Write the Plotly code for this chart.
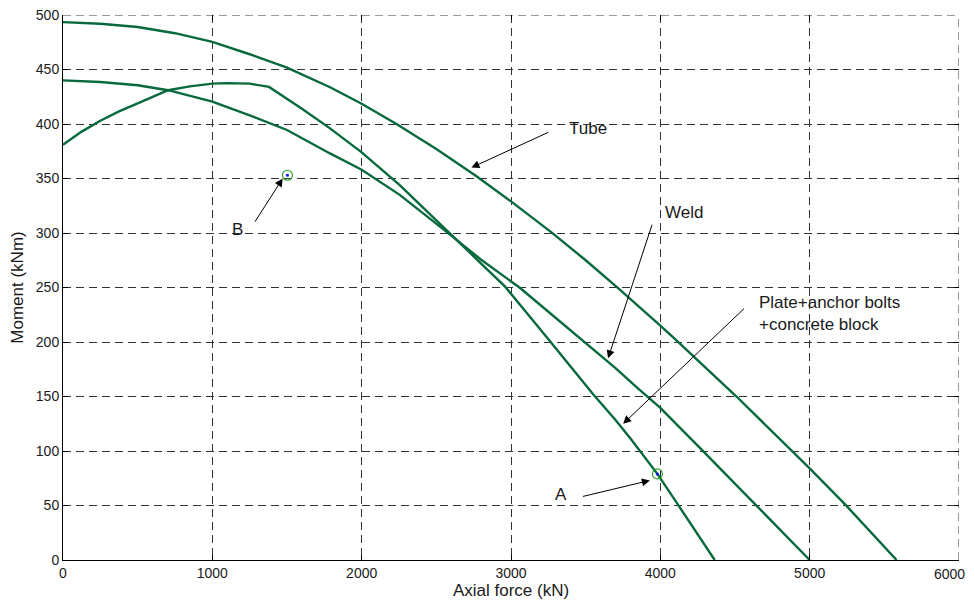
import plotly.graph_objects as go

# ---- data ----
tube_n = [0, 250, 500, 750, 1000, 1250, 1500, 1788, 2000, 2233, 2500, 2769, 3000, 3271, 3500, 3717, 4000, 4090, 4510, 4880, 5000, 5247, 5582]
tube_m = [493.5, 492, 489, 483.3, 475.3, 464, 451.8, 433.7, 418.6, 400, 377, 352, 329, 300.6, 275, 249.5, 215, 203.8, 150, 100.5, 84, 49.6, 0]

weld_n = [0, 250, 500, 704, 1000, 1250, 1500, 1788, 2000, 2255, 2569, 2800, 3057, 3250, 3483, 3700, 3850, 4000, 4250, 4620, 5000]
weld_m = [440, 438.5, 435.5, 431, 420.5, 408, 394.5, 373, 358, 335, 301, 275.5, 250, 228, 201, 176, 157.5, 139.5, 105, 53, 0]

plate_n = [0, 125, 250, 375, 500, 704, 850, 1000, 1100, 1250, 1380, 1600, 1788, 2000, 2255, 2569, 2800, 2959, 3100, 3260, 3550, 3700, 3800, 3900, 3980, 4117, 4364]
plate_m = [381, 393, 403, 411.5, 419, 431, 434.5, 437, 437.5, 437, 434, 414, 396, 374, 344, 302, 272, 251, 228, 201, 152, 128.5, 111.5, 93.5, 79, 51, 0]

points_name = ["A", "B"]
points_n = [3980, 1503]
points_m = [79, 353]

x_ticks = [0, 1000, 2000, 3000, 4000, 5000, 6000]
y_ticks = [0, 50, 100, 150, 200, 250, 300, 350, 400, 450, 500]
X_MAX = 6000
Y_MAX = 500

LINE = "#07693c"
FONT = "Arial, Liberation Sans, sans-serif"
TXT = "#1a1a1a"
GRID = "#333333"

fig = go.Figure()
for n, m, name in [(tube_n, tube_m, "Tube"), (weld_n, weld_m, "Weld"),
                   (plate_n, plate_m, "Plate+anchor bolts+concrete block")]:
    fig.add_trace(go.Scatter(x=n, y=m, mode="lines", name=name,
                             line=dict(color=LINE, width=2.4)))

fig.add_trace(go.Scatter(x=points_n, y=points_m, mode="markers", showlegend=False,
                         marker=dict(symbol="circle-open", size=10, color="#2aa02a",
                                     line=dict(width=1.2, color="#2aa02a"))))
fig.add_trace(go.Scatter(x=points_n, y=points_m, mode="markers", showlegend=False,
                         marker=dict(symbol="circle", size=3, color="#1010ff")))
# invisible trace carrying the mirrored (tick-only) top/right axes
fig.add_trace(go.Scatter(x=[0, X_MAX], y=[0, Y_MAX], xaxis="x2", yaxis="y2", mode="markers",
                         marker=dict(opacity=0), showlegend=False, hoverinfo="skip"))

# dashed grid lines on the outer (top/right) edges of the plot box
fig.add_shape(type="line", xref="x", yref="y", x0=0, x1=X_MAX, y0=Y_MAX, y1=Y_MAX,
              line=dict(color=GRID, width=1, dash="8px,5px"), layer="below")
fig.add_shape(type="line", xref="x", yref="y", x0=X_MAX, x1=X_MAX, y0=0, y1=Y_MAX,
              line=dict(color=GRID, width=1, dash="8px,5px"), layer="below")

# arrows: (head_x, head_y, tail_x, tail_y)
arrows = [
    (2735, 360, 3260, 393),    # Tube
    (3650, 185, 3948, 309),    # Weld
    (3751, 125, 4571, 232),    # Plate
    (3930, 73, 3472, 58),      # A
    (1471, 350, 1279, 309),    # B
]
for hx, hy, tx, ty in arrows:
    fig.add_annotation(x=hx, y=hy, ax=tx, ay=ty, xref="x", yref="y", axref="x", ayref="y",
                       text="", showarrow=True, arrowhead=2, arrowsize=1.6, arrowwidth=1,
                       arrowcolor="black", standoff=0, startstandoff=0)

labels = [
    ("Tube", 3376, 396, "left"),
    ("Weld", 4019, 319, "left"),
    ("Plate+anchor bolts<br>+concrete block", 4644, 226, "left"),
    ("A", 3333, 60, "center"),
    ("B", 1167, 303, "center"),
]
for t, x, y, anc in labels:
    fig.add_annotation(x=x, y=y, xref="x", yref="y", text=t, showarrow=False,
                       xanchor=anc, yanchor="middle", align="left",
                       font=dict(family=FONT, size=17, color=TXT))

# last x tick label: drawn as an annotation pulled inside the visible page edge
x_ticktext = [str(v) for v in x_ticks]
last_label = x_ticktext[-1]
x_ticktext[-1] = ""
fig.add_annotation(x=x_ticks[-1], y=0, xref="x", yref="y", text=last_label, showarrow=False,
                   xanchor="right", yanchor="top", xshift=8, yshift=-4,
                   font=dict(family=FONT, size=14, color=TXT))

axis_common = dict(showgrid=True, gridcolor=GRID, gridwidth=1, griddash="8px,5px",
                   showline=True, linecolor="black", linewidth=1, ticks="inside",
                   ticklen=5, tickcolor="black", zeroline=False, automargin=False,
                   ticklabeloverflow="allow",
                   tickfont=dict(family=FONT, size=14, color=TXT))

# the page adds an 8px body margin, so margins are shifted by 8px
fig.update_layout(
    xaxis=dict(range=[0, X_MAX], tickvals=x_ticks, ticktext=x_ticktext,
               title=dict(text="Axial force (kN)", font=dict(family=FONT, size=17, color=TXT), standoff=4),
               **axis_common),
    yaxis=dict(range=[0, Y_MAX], tickvals=y_ticks, ticktext=[str(v) for v in y_ticks],
               title=dict(text="Moment (kNm)", font=dict(family=FONT, size=17, color=TXT), standoff=8),
               **axis_common),
    xaxis2=dict(range=[0, X_MAX], overlaying="x", side="top", anchor="y2", tickvals=x_ticks,
                showticklabels=False, showgrid=False, showline=False, zeroline=False,
                ticks="inside", ticklen=5, tickcolor="black", automargin=False),
    yaxis2=dict(range=[0, Y_MAX], overlaying="y", side="right", anchor="x2", tickvals=y_ticks,
                showticklabels=False, showgrid=False, showline=False, zeroline=False,
                ticks="inside", ticklen=5, tickcolor="black", automargin=False),
    width=975, height=606, margin=dict(l=55, r=24, t=7, b=54),
    plot_bgcolor="white", paper_bgcolor="white", showlegend=False,
    font=dict(family=FONT, color=TXT),
)

fig.write_html("out.html")
